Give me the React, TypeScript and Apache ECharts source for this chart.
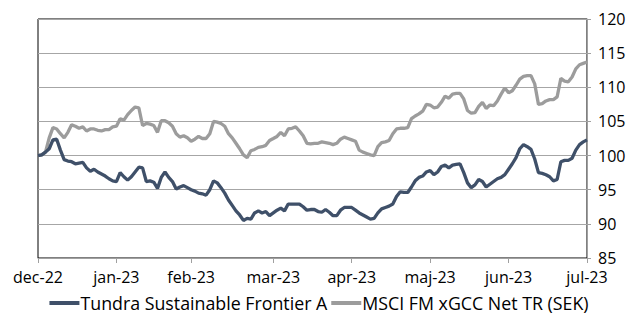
import React, { useEffect, useRef } from "react";
import * as echarts from "echarts";

const seriesNames = ["Tundra Sustainable Frontier A", "MSCI FM xGCC Net TR (SEK)"];
const monthLabels = ["dec-22", "jan-23", "feb-23", "mar-23", "apr-23", "maj-23", "jun-23", "jul-23"];
const monthTickIndex = [0, 21, 41, 63, 84, 105, 126, 147];

const fundValues = [
  100.0, 100.1, 100.5, 101.0, 102.3, 102.4, 100.8, 99.4, 99.2, 99.1,
  98.8, 98.9, 99.0, 98.2, 97.7, 98.0, 97.6, 97.3, 97.0, 96.6,
  96.3, 96.2, 97.5, 96.9, 96.4, 96.9, 97.6, 98.3, 98.2, 96.2,
  96.3, 96.1, 95.2, 96.8, 97.6, 96.8, 96.2, 95.1, 95.4, 95.6,
  95.3, 95.0, 94.8, 94.5, 94.4, 94.2, 95.0, 96.3, 96.0, 95.3,
  94.5, 93.5, 92.7, 91.9, 91.3, 90.5, 90.8, 90.7, 91.6, 91.9,
  91.6, 91.8, 91.2, 91.6, 92.0, 92.3, 91.9, 92.9, 92.9, 92.9,
  92.9, 92.5, 92.0, 92.1, 92.1, 91.8, 91.7, 92.1, 91.7, 91.2,
  91.2, 92.0, 92.4, 92.4, 92.4, 92.0, 91.6, 91.3, 91.0, 90.7,
  90.8, 91.6, 92.2, 92.4, 92.6, 92.9, 94.0, 94.7, 94.6, 94.6,
  95.4, 96.3, 96.8, 97.0, 97.6, 97.8, 97.2, 97.6, 98.4, 98.6,
  98.2, 98.6, 98.7, 98.8, 97.5, 96.0, 95.3, 95.7, 96.5, 96.2,
  95.4, 95.8, 96.2, 96.6, 96.8, 97.2, 98.0, 98.8, 99.7, 101.0,
  101.6, 101.3, 100.9, 99.5, 97.5, 97.4, 97.2, 96.9, 96.3, 96.5,
  99.1, 99.3, 99.3, 99.6, 100.8, 101.6, 102.0, 102.3,
];

const indexValues = [
  100.0, 100.1, 100.5, 102.6, 104.1, 103.9, 103.2, 102.6, 103.4, 104.5,
  104.3, 104.0, 104.2, 103.6, 103.9, 103.9, 103.7, 103.6, 103.8, 103.8,
  104.2, 104.3, 105.4, 105.2, 106.0, 106.6, 107.1, 107.0, 104.4, 104.7,
  104.6, 104.4, 103.4, 105.1, 105.1, 104.8, 104.3, 103.2, 102.7, 102.9,
  102.6, 102.1, 102.4, 102.8, 102.5, 102.5, 103.2, 105.0, 104.9, 104.7,
  104.3, 103.2, 102.6, 101.8, 101.0, 100.1, 99.7, 100.7, 100.9, 101.2,
  101.3, 101.5, 102.2, 102.5, 102.8, 103.4, 102.9, 103.9, 104.0, 104.2,
  103.6, 102.9, 101.8, 101.7, 101.8, 101.8, 102.0, 101.9, 101.8, 101.6,
  101.8, 102.4, 102.7, 102.5, 102.3, 102.1, 100.8, 100.5, 100.3, 100.1,
  100.0, 101.3, 101.9, 102.0, 102.2, 103.2, 103.9, 104.0, 104.0, 104.1,
  105.4, 105.8, 106.1, 106.5, 107.5, 107.4, 107.0, 107.1, 107.8, 108.7,
  108.4, 109.0, 109.1, 109.1, 108.3, 106.6, 106.2, 106.3, 107.2, 107.8,
  106.9, 107.4, 107.3, 108.0, 109.0, 109.9, 109.2, 109.5, 110.3, 111.2,
  111.6, 111.7, 111.7, 110.5, 107.5, 107.6, 108.0, 108.2, 108.2, 108.6,
  111.3, 110.9, 110.8, 111.5, 112.7, 113.3, 113.5, 113.7,
];

const categories = fundValues.map((_, i) => String(i));

const FONT = "Open Sans";

export default function App() {
  const ref = useRef<HTMLDivElement>(null);
  useEffect(() => {
    if (!ref.current) return;
    const chart = echarts.init(ref.current, null, { renderer: "svg" });
    const isTick = (i: number) => monthTickIndex.indexOf(i) >= 0;
    chart.setOption({
      animation: false,
      backgroundColor: "#ffffff",
      grid: {
        left: 38,
        right: 51,
        top: 19,
        bottom: 61,
        show: true,
        borderColor: "#000000",
        borderWidth: 1,
        backgroundColor: "transparent",
      },
      legend: {
        bottom: 2,
        left: "center",
        itemWidth: 30,
        itemHeight: 4,
        itemGap: 4,
        icon: "rect",
        textStyle: { fontFamily: FONT, fontSize: 17.8, color: "#000", padding: [0, 0, 0, -4] },
        data: seriesNames,
      },
      xAxis: {
        type: "category",
        data: categories,
        boundaryGap: false,
        axisLine: { show: true, lineStyle: { color: "#a0a0a0", width: 1 } },
        axisTick: { show: true, interval: (i: number) => isTick(i), length: 5, lineStyle: { color: "#a0a0a0" } },
        axisLabel: {
          interval: (i: number) => isTick(i),
          formatter: (_v: string, i: number) => {
            const k = monthTickIndex.indexOf(i);
            return k >= 0 ? monthLabels[k] : "";
          },
          fontFamily: FONT,
          fontSize: 16,
          color: "#000",
          margin: 11,
          showMinLabel: true,
          showMaxLabel: true,
        },
        splitLine: { show: false },
      },
      yAxis: {
        type: "value",
        position: "right",
        min: 85,
        max: 120,
        interval: 5,
        axisLine: { show: true, lineStyle: { color: "#a0a0a0", width: 1 } },
        axisTick: { show: true, length: 4, lineStyle: { color: "#a0a0a0" } },
        axisLabel: { fontFamily: FONT, fontSize: 16, color: "#000", margin: 11 },
        splitLine: { show: true, lineStyle: { color: "#a6a6a6", width: 1 } },
      },
      series: [
        {
          name: seriesNames[0],
          type: "line",
          data: fundValues,
          showSymbol: false,
          symbol: "none",
          lineStyle: { color: "#3f5069", width: 3.3 },
          itemStyle: { color: "#3f5069" },
          z: 3,
        },
        {
          name: seriesNames[1],
          type: "line",
          data: indexValues,
          showSymbol: false,
          symbol: "none",
          lineStyle: { color: "#9c9c9c", width: 3.3 },
          itemStyle: { color: "#9c9c9c" },
          z: 2,
        },
      ],
    });
    return () => chart.dispose();
  }, []);
  return <div ref={ref} style={{ width: 638, height: 319, position: "absolute", left: 0, top: 0 }} />;
}
